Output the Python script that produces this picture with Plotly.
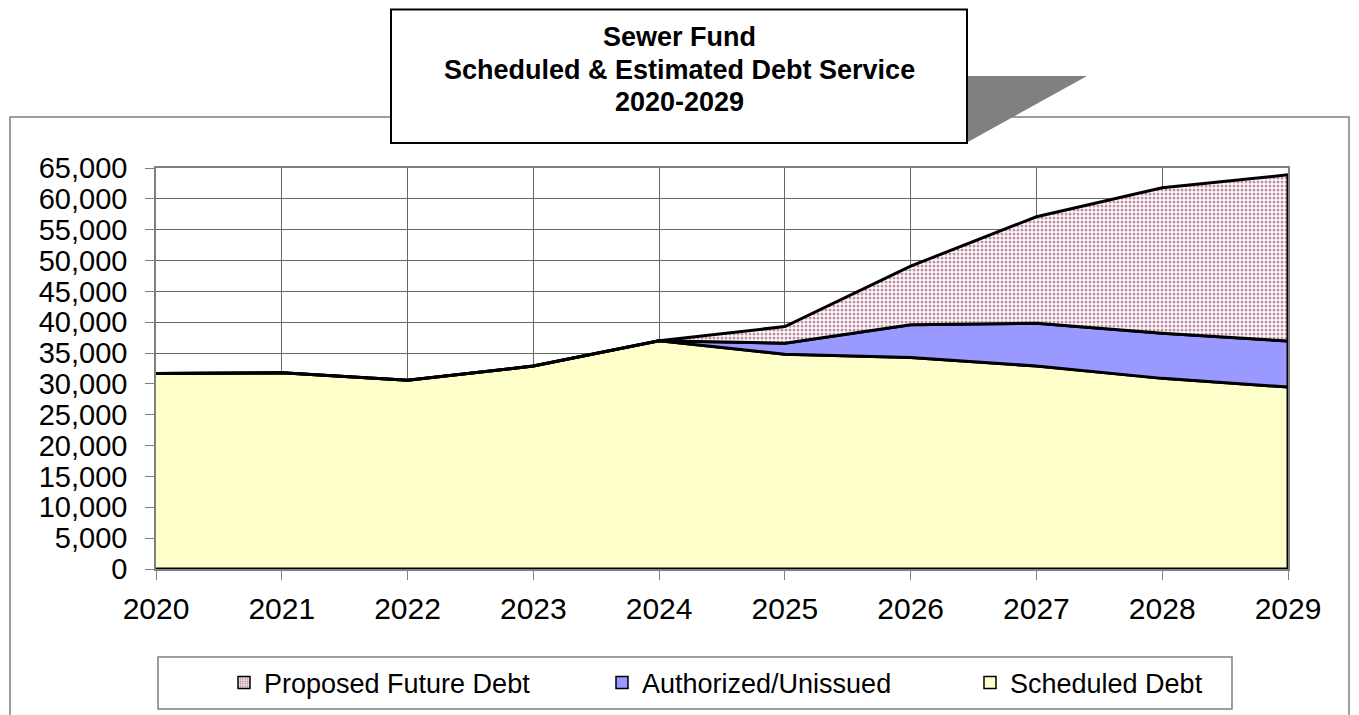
import plotly.graph_objects as go

years = [2020, 2021, 2022, 2023, 2024, 2025, 2026, 2027, 2028, 2029]
scheduled = [31700, 31800, 30600, 32900, 37000, 34800, 34300, 32900, 30900, 29500]
authorized = [0, 0, 0, 0, 0, 1800, 5300, 6950, 7300, 7450]
proposed = [0, 0, 0, 0, 0, 2700, 9500, 17250, 23600, 26950]
series_names = ["Scheduled Debt", "Authorized/Unissued", "Proposed Future Debt"]
title_lines = ["Sewer Fund", "Scheduled & Estimated Debt Service", "2020-2029"]
y_ticks = list(range(0, 65001, 5000))

OFF = 8  # default page body margin
W, H = 1359, 715
L, R, T, B = 156, 1288, 168, 569
FONT = "Arial, Liberation Sans, sans-serif"
DOT = "#7d1f4e"


def px(x):
    return (x - L) / (R - L)


def py(y):
    return (B - y) / (B - T)


lvl1 = scheduled
lvl2 = [a + b for a, b in zip(lvl1, authorized)]
lvl3 = [a + b for a, b in zip(lvl2, proposed)]
zeros = [0] * len(years)

fig = go.Figure()
layers = [
    (series_names[0], zeros, lvl1, dict(fillcolor="#FFFFCC")),
    (series_names[1], lvl1, lvl2, dict(fillcolor="#9999FF")),
    (series_names[2], lvl2, lvl3, dict(fillcolor="white",
                                       fillpattern=dict(shape=".", fgcolor=DOT, bgcolor="white",
                                                        size=4, solidity=0.45))),
]
for name, bot, top, style in layers:
    fig.add_trace(go.Scatter(
        x=years + years[::-1], y=top + bot[::-1], fill="toself", mode="lines",
        line=dict(color="black", width=3), name=name, showlegend=False,
        hoverinfo="skip", **style))

# legend entries (square swatches), one legend per entry so each can be placed
leg_styles = {
    series_names[2]: dict(color="white", pattern=dict(shape=".", fgcolor=DOT, bgcolor="white", size=3, solidity=0.5)),
    series_names[1]: dict(color="#9999FF"),
    series_names[0]: dict(color="#FFFFCC"),
}
leg_ids = ["legend", "legend2", "legend3"]
leg_x = [224, 602, 970]
for lid, name in zip(leg_ids, [series_names[2], series_names[1], series_names[0]]):
    fig.add_trace(go.Bar(x=[None], y=[None], name=name, legend=lid,
                         marker=dict(line=dict(color="black", width=1.5), **leg_styles[name])))

shapes = []
# outer chart border
shapes.append(dict(type="rect", xref="paper", yref="paper", x0=px(10), x1=px(1349), y0=py(117), y1=py(730),
                   line=dict(color="#808080", width=1.5), fillcolor="rgba(0,0,0,0)", layer="below"))
# legend box
shapes.append(dict(type="rect", xref="paper", yref="paper", x0=px(158), x1=px(1232), y0=py(657), y1=py(709),
                   line=dict(color="#808080", width=1.5), fillcolor="white", layer="below"))
# title shadow
shapes.append(dict(type="path", xref="paper", yref="paper",
                   path=f"M{px(960)},{py(76)} L{px(1087)},{py(76)} L{px(966)},{py(143)} L{px(960)},{py(143)} Z",
                   line=dict(width=0), fillcolor="#808080"))
# title box
shapes.append(dict(type="rect", xref="paper", yref="paper", x0=px(391), x1=px(967), y0=py(9.5), y1=py(143),
                   line=dict(color="black", width=2), fillcolor="white"))

annotations = []
for line, ly in zip(title_lines, [37, 70, 102]):
    annotations.append(dict(xref="paper", yref="paper", x=px(679), y=py(ly), xanchor="center", yanchor="middle",
                            text="<b>" + line + "</b>", showarrow=False,
                            font=dict(family=FONT, size=27, color="black")))

legends = {}
for lid, lx in zip(leg_ids, leg_x):
    legends[lid] = dict(orientation="h", x=px(lx), y=py(683), xanchor="left", yanchor="middle",
                        bgcolor="rgba(0,0,0,0)", borderwidth=0, font=dict(family=FONT, size=27))

fig.update_layout(
    width=W - OFF, height=H - OFF, autosize=False,
    margin=dict(l=L - OFF, r=W - R, t=T - OFF, b=H - B, pad=0, autoexpand=False),
    paper_bgcolor="white", plot_bgcolor="white",
    font=dict(family=FONT, color="black"),
    shapes=shapes, annotations=annotations,
    showlegend=True,
    **legends,
    xaxis=dict(range=[years[0], years[-1]], tickmode="array", tickvals=years, ticktext=[str(y) for y in years],
               showgrid=True, gridcolor="#666666", gridwidth=1, showline=True, mirror=True,
               linecolor="#808080", linewidth=1.5, ticks="outside", ticklen=9, tickcolor="#808080",
               tickfont=dict(family=FONT, size=30), zeroline=False, ticklabelstandoff=3),
    yaxis=dict(range=[0, 65000], tickmode="array", tickvals=y_ticks, ticktext=[f"{v:,}" for v in y_ticks],
               showgrid=True, gridcolor="#666666", gridwidth=1, showline=True, mirror=True,
               linecolor="#808080", linewidth=1.5, ticks="outside", ticklen=9, tickcolor="#808080",
               tickfont=dict(family=FONT, size=29), zeroline=False, ticklabelstandoff=12),
)

fig.write_html("out.html")
